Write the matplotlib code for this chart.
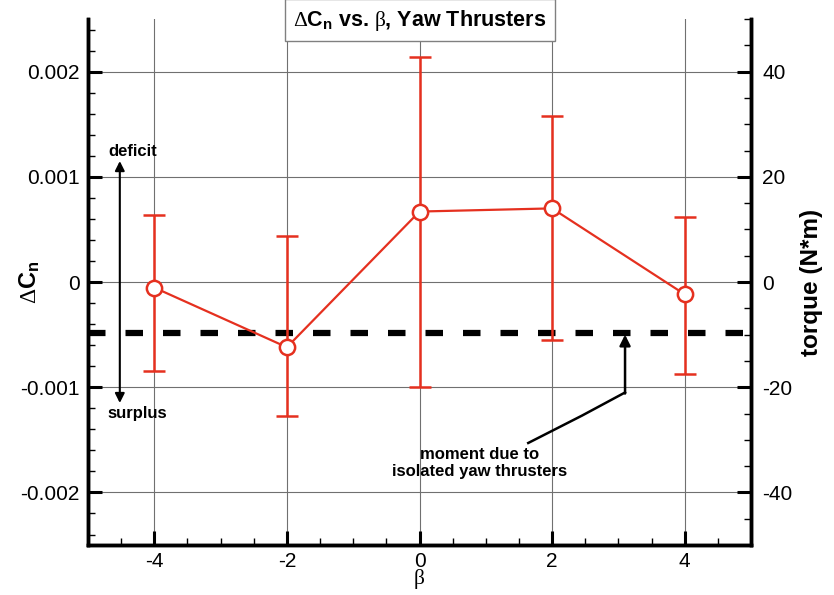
import matplotlib.pyplot as plt
from matplotlib.ticker import MultipleLocator
import numpy as np

plt.rcParams['font.family'] = ['Liberation Sans', 'DejaVu Sans']
plt.rcParams['mathtext.fontset'] = 'custom'
plt.rcParams['mathtext.rm'] = 'Liberation Serif'
plt.rcParams['mathtext.bf'] = 'Liberation Sans:bold'
plt.rcParams['mathtext.it'] = 'Liberation Serif:italic'
plt.rcParams['axes.unicode_minus'] = False

# yaw moment increment vs sideslip angle
beta = [-4, -2, 0, 2, 4]
dcn = [-0.000053, -0.00062, 0.00067, 0.0007, -0.000117]
dcn_hi = [0.00064, 0.000436, 0.00214, 0.00158, 0.000616]
dcn_lo = [-0.00085, -0.00127, -0.001, -0.00055, -0.000875]
dcn_thruster = -0.00048
torque_per_dcn = 20000.0

red = '#e5301f'

fig = plt.figure(figsize=(8.34, 5.95), dpi=100)
ax = fig.add_axes([0.1055, 0.084, 0.795, 0.884])

dcn = np.array(dcn)
yerr = [dcn - np.array(dcn_lo), np.array(dcn_hi) - dcn]
ax.errorbar(beta, dcn, yerr=yerr, color=red, lw=1.6, elinewidth=1.8,
            capsize=8, capthick=1.8, marker='o', ms=11, mfc='white',
            mec=red, mew=1.8, zorder=4)

ax.axhline(dcn_thruster, color='black', lw=4.5, ls=(0, (2.8, 3.2)), zorder=3)

ax.set_xlim(-5, 5)
ax.set_ylim(-0.0025, 0.0025)
ax.xaxis.set_major_locator(MultipleLocator(2))
ax.xaxis.set_minor_locator(MultipleLocator(0.5))
ax.yaxis.set_major_locator(MultipleLocator(0.001))
ax.yaxis.set_minor_locator(MultipleLocator(0.0002))
ax.set_yticks([-0.002, -0.001, 0, 0.001, 0.002])
ax.set_yticklabels(['-0.002', '-0.001', '0', '0.001', '0.002'])
ax.grid(True, which='major', color='#707070', lw=0.8)
ax.set_axisbelow(True)

for side in ['left', 'bottom', 'right']:
    ax.spines[side].set_linewidth(2.5)
ax.spines['top'].set_visible(False)
ax.tick_params(which='major', direction='in', length=10, width=2.2,
               labelsize=15, pad=6)
ax.tick_params(axis='x', which='major', pad=5)
ax.tick_params(which='minor', direction='in', length=5, width=1)

ax.set_xlabel('β', fontsize=15.5, family='Liberation Serif')
ax.xaxis.set_label_coords(0.5, -0.046)
ax.set_ylabel(r'$\mathrm{\Delta}\mathbf{C}_\mathbf{n}$', fontsize=17)
ax.yaxis.set_label_coords(-0.070, 0.5)

# torque scale on the right
ax2 = ax.twinx()
ax2.set_ylim(-0.0025 * torque_per_dcn, 0.0025 * torque_per_dcn)
ax2.yaxis.set_major_locator(MultipleLocator(20))
ax2.yaxis.set_minor_locator(MultipleLocator(5))
for side in ['left', 'bottom', 'right']:
    ax2.spines[side].set_linewidth(2.5)
ax2.spines['top'].set_visible(False)
ax2.tick_params(which='major', direction='in', length=10, width=2.2,
                labelsize=15, pad=8)
ax2.tick_params(which='minor', direction='in', length=5, width=1)
ax2.set_ylabel('torque (N*m)', fontsize=17.5, fontweight='bold')
ax2.yaxis.set_label_coords(1.074, 0.5)

# deficit / surplus arrow
ax.annotate('', xy=(-4.52, 0.00115), xytext=(-4.52, -0.00115),
            arrowprops=dict(arrowstyle='<|-|>', color='black', lw=1.5,
                            mutation_scale=14, shrinkA=0, shrinkB=0))
ax.text(-4.7, 0.00124, 'deficit', fontsize=12, fontweight='bold',
        ha='left', va='center')
ax.text(-4.7, -0.00125, 'surplus', fontsize=12, fontweight='bold',
        ha='left', va='center')

# pointer to the thruster moment line
ax.plot([1.64, 2.45, 3.1], [-0.00153, -0.00127, -0.00105], color='black', lw=1.8)
ax.annotate('', xy=(3.1, -0.0005), xytext=(3.1, -0.00106),
            arrowprops=dict(arrowstyle='-|>', color='black', lw=1.8,
                            mutation_scale=16, shrinkA=0, shrinkB=0))
ax.text(0.9, -0.00172, 'moment due to\nisolated yaw thrusters', fontsize=12,
        fontweight='bold', ha='center', va='center', linespacing=1.1)

fig.text(0.5036, 0.966,
         r'$\mathrm{\Delta}\mathbf{C}_\mathbf{n}$ vs. $\mathrm{\beta}$, Yaw Thrusters',
         fontsize=15.5, fontweight='bold', ha='center', va='center',
         bbox=dict(boxstyle='square,pad=0.4', fc='white', ec='#808080', lw=1))

fig.savefig('out.png', dpi=100)
